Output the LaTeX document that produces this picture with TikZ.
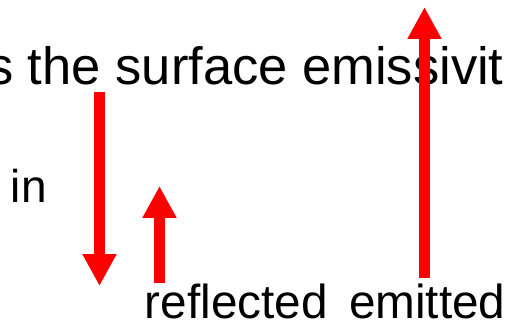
\documentclass[tikz,border=0pt]{standalone}
\usepackage{fontspec}
\setmainfont{Liberation Sans}
\usetikzlibrary{arrows.meta}
\begin{document}
\begin{tikzpicture}[x=1pt,y=-1pt,
  lbl/.style={inner sep=0pt,outer sep=0pt,anchor=base west,text=black},
  big/.style={lbl,font=\fontsize{52.5}{52.5}\selectfont},
  mid/.style={lbl,font=\fontsize{47.7}{47.7}\selectfont},
  ray/.style={draw=red,line width=11pt,line cap=butt,
    -{Triangle[width=32pt,length=32pt]},fill=red}]
\useasboundingbox (0,0) rectangle (506,323);
\clip (0,0) rectangle (506,323);
\node[big] (title) at (-12.8,85) {s the surface emissivit};
\node[lbl,font=\fontsize{46}{46}\selectfont] (in) at (10.9,202.7) {in};
\node[mid] (refl) at (144.9,318) {reflected};
\node[mid] (emit) at (349,318) {emitted};
\coordinate (inA) at (99.5,92);
\coordinate (inB) at (99.5,286);
\coordinate (rfA) at (159.5,283);
\coordinate (rfB) at (159.5,186);
\coordinate (emA) at (424.5,278);
\coordinate (emB) at (424.5,7);
\draw[ray] (inA) -- (inB);
\draw[ray] (rfA) -- (rfB);
\draw[ray] (emA) -- (emB);
\end{tikzpicture}
\end{document}
